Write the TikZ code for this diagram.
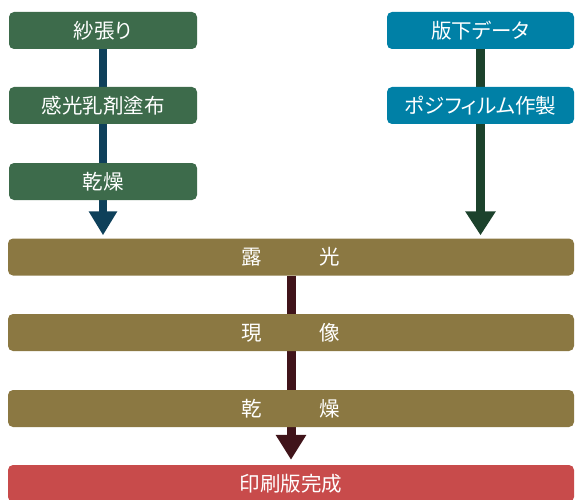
\documentclass[tikz,border=0pt]{standalone}
\usepackage{fontspec}
\newfontfamily\jpfont[RawFeature=+palt]{Noto Sans CJK JP}
\usetikzlibrary{arrows.meta,backgrounds}
\definecolor{boxgreen}{HTML}{3D6B4B}
\definecolor{boxblue}{HTML}{0080A6}
\definecolor{boxbrown}{HTML}{8B7842}
\definecolor{boxred}{HTML}{C84B4B}
\definecolor{arrnavy}{HTML}{0E405A}
\definecolor{arrgreen}{HTML}{1C422C}
\definecolor{arrmaroon}{HTML}{40141A}
\begin{document}
\begin{tikzpicture}[x=1pt, y=-1pt,
    stepbox/.style={rounded corners=5pt, inner sep=0pt, text=white,
        font=\jpfont\fontsize{20.5}{20.5}\selectfont, minimum height=37pt},
    leftbox/.style={stepbox, fill=boxgreen, minimum width=188pt},
    rightbox/.style={stepbox, fill=boxblue, minimum width=187pt},
    widebox/.style={stepbox, fill=boxbrown, minimum width=566pt}]
    \useasboundingbox (0,0) rectangle (575,500);

    % left column
    \node[leftbox] (shabari) at (103,30.5) {紗張り};
    \node[leftbox] (kankou) at (103,105.5) {感光乳剤塗布};
    \node[leftbox] (kansou) at (103,181.5) {乾燥};

    % right column
    \node[rightbox] (hanshita) at (480.5,30.5) {版下データ};
    \node[rightbox] (posi) at (480.5,105.5) {ポジフィルム作製};

    % main line
    \node[widebox] (roko) at (291,257) {露\hspace{58pt}光};
    \node[widebox] (genzo) at (291,332.5) {現\hspace{58pt}像};
    \node[widebox] (kansou2) at (291,408.5) {乾\hspace{58pt}燥};
    \node[stepbox, fill=boxred, minimum width=566pt] (kansei) at (291,483.5) {印刷版完成};

    \coordinate (ltip) at (kansou.south |- roko.north);
    \coordinate (rtip) at (posi.south |- roko.north);

    \begin{scope}[on background layer]
        \draw[arrnavy, line width=8pt, shorten >=3pt,
            -{Triangle[width=27pt,length=24pt]}] (shabari.south) -- (ltip);
        \draw[arrgreen, line width=9pt, shorten >=3pt,
            -{Triangle[width=29pt,length=24pt]}] (hanshita.south) -- (rtip);
        \draw[arrmaroon, line width=9pt, shorten >=5pt,
            -{Triangle[width=29pt,length=25pt]}] (roko.south) -- (kansei.north);
    \end{scope}
\end{tikzpicture}
\end{document}
